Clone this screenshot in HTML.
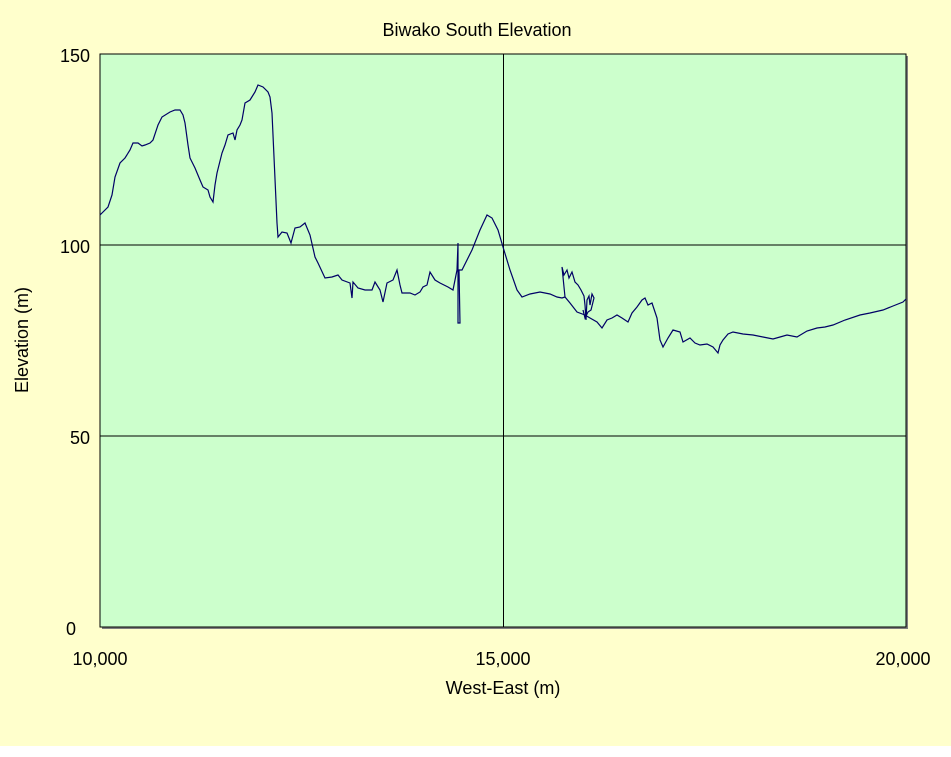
<!DOCTYPE html>
<html><head><meta charset="utf-8"><style>
html,body{margin:0;padding:0;background:#fff;}
svg{display:block;}
text{font-family:"Liberation Sans","Noto Sans CJK JP",sans-serif;fill:#000;}
</style></head><body>
<svg width="951" height="757" xmlns="http://www.w3.org/2000/svg">
<rect x="0" y="0" width="951" height="746" fill="#FFFFCC"/>
<rect x="102" y="56" width="806" height="573" fill="#808080"/>
<rect x="100" y="54" width="806" height="573" fill="#CCFFCC" stroke="#000" stroke-width="1"/>
<line x1="100" y1="245" x2="906" y2="245" stroke="#000"/>
<line x1="100" y1="436" x2="906" y2="436" stroke="#000"/>
<line x1="503.5" y1="54" x2="503.5" y2="627" stroke="#000"/>
<polyline fill="none" stroke="#000066" stroke-width="1.2" points="100,215 103,212 108,207 112,195 115,177 120,163 125,158 130,150 133,143 138,143 142,146 145,145 150,143 153,140 158,125 162,117 170,112 175,110 180,110 183,115 185,123 188,145 190,158 195,168 200,180 203,187 208,190 210,197 213,202 215,185 217,173 222,153 225,145 228,135 233,133 235,140 237,130 240,125 242,120 245,103 250,100 255,92 258,85 263,87 268,92 270,97 272,113 277,223 278,237 282,232 287,233 291,243 295,228 300,227 305,223 310,235 315,257 318,263 325,278 332,277 338,275 342,280 350,283 352,298 353,282 358,288 365,290 372,290 375,282 380,290 383,302 387,283 393,280 397,270 400,285 402,293 410,293 415,295 420,292 423,287 427,285 430,272 435,280 440,283 448,287 453,290 457,270 458,243 458,323 460,323 459,270 462,270 472,250 480,230 487,215 492,218 498,230 503,247 510,270 517,290 522,297 530,294 540,292 550,294 557,297 562,298 565,297 570,303 577,312 585,315 590,318 597,322 602,328 607,320 612,318 617,315 622,318 628,322 632,313 637,307 642,300 645,298 648,305 652,303 655,312 657,318 660,340 663,347 668,338 673,330 680,332 683,342 690,338 695,343 700,345 707,344 713,347 718,353 720,345 723,340 728,334 733,332 743,334 753,335 763,337 773,339 780,337 787,335 797,337 807,331 817,328 825,327 833,325 845,320 860,315 870,313 883,310 893,306 903,302 906,299"/>
<polyline fill="none" stroke="#000066" stroke-width="1.2" points="565,297 562,267 564,275 567,270 569,278 572,272 575,282 578,285 581,290 584,296 585,305 586,320 587,300 589,296 590,305 592,294 594,298 591,310 588,312 585,318 583,310"/>
<text x="477" y="36" font-size="18" text-anchor="middle">Biwako South Elevation</text>
<text x="90" y="62" font-size="18" text-anchor="end">150</text>
<text x="90" y="253" font-size="18" text-anchor="end">100</text>
<text x="90" y="444" font-size="18" text-anchor="end">50</text>
<text x="76" y="635" font-size="18" text-anchor="end">0</text>
<text x="100" y="665" font-size="18" text-anchor="middle">10,000</text>
<text x="503" y="665" font-size="18" text-anchor="middle">15,000</text>
<text x="903" y="665" font-size="18" text-anchor="middle">20,000</text>
<text x="503" y="694" font-size="18" text-anchor="middle">West-East (m)</text>
<text x="28" y="340" font-size="18" text-anchor="middle" transform="rotate(-90 28 340)">Elevation (m)</text>
</svg>
</body></html>
